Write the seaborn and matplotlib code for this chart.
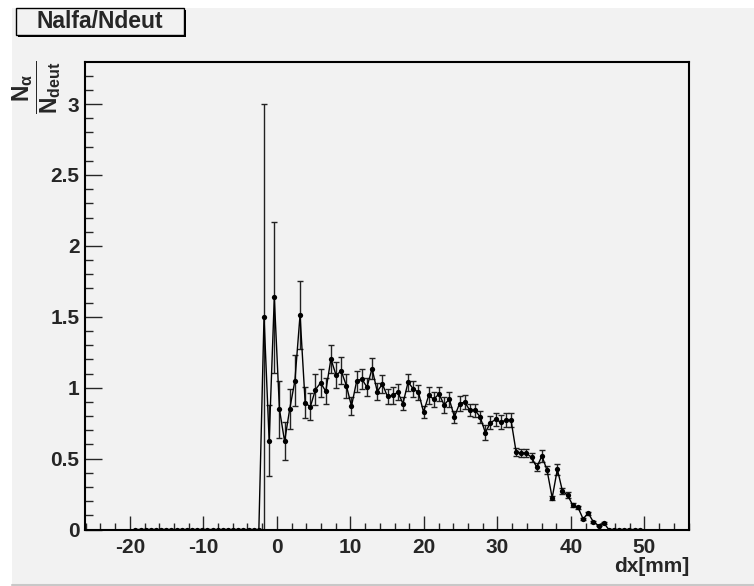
import numpy as np
import pandas as pd
import matplotlib
matplotlib.use("Agg")
import matplotlib.pyplot as plt
from matplotlib.patches import Rectangle
from matplotlib.ticker import MultipleLocator
import seaborn as sns

# ---------------- data ----------------
bin_width = 0.7
bin_index = list(range(-28, 71))          # bins with entries, centre = (k+0.5)*bin_width
zeros_left = [0.0] * 25                    # k = -28 .. -4
ratio_mid = [1.50, 0.625, 1.636, 0.848, 0.622, 0.851, 1.048, 1.511, 0.893, 0.865,
             0.987, 1.034, 0.975, 1.203, 1.088, 1.118, 1.015, 0.870, 1.046, 1.062,
             1.004, 1.135, 0.973, 1.025, 0.938, 0.945, 0.968, 0.888, 1.039, 0.992,
             0.968, 0.829, 0.945, 0.919, 0.956, 0.879, 0.919, 0.794, 0.888, 0.898,
             0.841, 0.841, 0.794, 0.684, 0.752, 0.776, 0.757, 0.771, 0.771, 0.545,
             0.540, 0.538, 0.508, 0.439, 0.519, 0.418, 0.223, 0.425, 0.270, 0.242,
             0.171, 0.157, 0.075, 0.115, 0.054, 0.028, 0.047]          # k = -3 .. 63
error_mid = [1.50, 0.25, 0.53, 0.20, 0.135, 0.14, 0.18, 0.24, 0.11, 0.095,
             0.106, 0.10, 0.09, 0.10, 0.09, 0.095, 0.085, 0.066, 0.075, 0.07,
             0.065, 0.073, 0.06, 0.065, 0.055, 0.06, 0.055, 0.047, 0.06, 0.055,
             0.052, 0.043, 0.06, 0.054, 0.05, 0.056, 0.054, 0.045, 0.05, 0.05,
             0.043, 0.047, 0.045, 0.05, 0.045, 0.047, 0.05, 0.05, 0.05, 0.03,
             0.03, 0.03, 0.03, 0.03, 0.045, 0.03, 0.015, 0.04, 0.02, 0.02,
             0.015, 0.012, 0.008, 0.01, 0.005, 0.004, 0.005]
zeros_right = [0.0] * 7                    # k = 64 .. 70

x_ticks = [-20, -10, 0, 10, 20, 30, 40, 50]
y_ticks = [0, 0.5, 1, 1.5, 2, 2.5, 3]
y_tick_labels = ["0", "0.5", "1", "1.5", "2", "2.5", "3"]
title_text = "Nalfa/Ndeut"
x_label = "dx[mm]"

dx = (np.array(bin_index) + 0.5) * bin_width
ratio = np.array(zeros_left + ratio_mid + zeros_right)
err = np.array(zeros_left + error_mid + zeros_right)
df = pd.DataFrame({"dx": dx, "ratio": ratio, "err": err})

# ---------------- style ----------------
sns.set_style("ticks")
plt.rcParams["font.family"] = ["Liberation Sans", "DejaVu Sans"]
plt.rcParams["font.weight"] = "bold"
plt.rcParams["mathtext.fontset"] = "custom"
plt.rcParams["mathtext.rm"] = "Liberation Sans:bold"
plt.rcParams["mathtext.bf"] = "Liberation Sans:bold"
plt.rcParams["mathtext.it"] = "Liberation Sans:bold"
plt.rcParams["mathtext.sf"] = "Liberation Sans:bold"

W, H = 754, 586
BG = "#f2f2f2"
fig = plt.figure(figsize=(W / 100, H / 100), dpi=100, facecolor="white")

# canvas grey area
fig.patches.append(Rectangle((12 / W, 1.5 / H), 1 - 12 / W, (584.5 - 8) / H,
                             transform=fig.transFigure, facecolor=BG,
                             edgecolor="none", zorder=-10))
fig.lines.append(plt.Line2D([12 / W, 1], [1.5 / H, 1.5 / H], transform=fig.transFigure,
                            color="#c8c8c8", linewidth=1.5))

ax = fig.add_axes([85 / W, (586 - 529.5) / H, (689.3 - 85) / W, (529.5 - 62.3) / H])
ax.set_facecolor(BG)

mask = df["err"] > 0
ax.errorbar(df.loc[mask, "dx"], df.loc[mask, "ratio"], yerr=df.loc[mask, "err"],
            fmt="none", ecolor="#222222", elinewidth=1.0, capsize=2.0, capthick=1.0,
            zorder=2)
sns.lineplot(data=df, x="dx", y="ratio", ax=ax, color="black", linewidth=1.0,
             marker="o", markersize=3.8, markeredgewidth=0, sort=False,
             estimator=None, zorder=3)

ax.set_xlim(-26.1, 56.1)
ax.set_ylim(0, 3.2945)
ax.set_xticks(x_ticks)
ax.set_xticklabels([str(t) for t in x_ticks])
ax.set_yticks(y_ticks)
ax.set_yticklabels(y_tick_labels)
ax.xaxis.set_minor_locator(MultipleLocator(2))
ax.yaxis.set_minor_locator(MultipleLocator(0.1))
ax.tick_params(axis="x", which="major", direction="in", length=10, width=1,
               labelsize=15, pad=6, top=False)
ax.tick_params(axis="x", which="minor", direction="in", length=5, width=1, top=False)
ax.tick_params(axis="y", which="major", direction="in", length=12, width=1,
               labelsize=15, pad=4, right=False)
ax.tick_params(axis="y", which="minor", direction="in", length=6, width=1, right=False)
for lab in ax.get_xticklabels() + ax.get_yticklabels():
    lab.set_fontweight("bold")
for s in ax.spines.values():
    s.set_visible(True)
    s.set_linewidth(1.5)
    s.set_color("black")
ax.set_xlabel("")
ax.set_ylabel("")

# x label at right end
fig.text(689.3 / W, 1 - 566 / H, x_label, ha="right", va="center",
         fontsize=15, fontweight="bold")

# y label: fraction N_alpha / N_deut
fig.text(37 / W, 1 - 61 / H,
         r"$\dfrac{\mathbf{N}_{\alpha}}{\mathbf{N}_{\mathbf{deut}}}$",
         rotation=90, ha="center", va="top", fontsize=16.5)

# title box with shadow
bx0, by0, bx1, by1 = 16, 7.5, 184, 35
fig.patches.append(Rectangle((bx0 / W + 2 / W, 1 - (by1 + 2) / H), (bx1 - bx0) / W,
                             (by1 - by0) / H, transform=fig.transFigure,
                             facecolor="black", edgecolor="none", zorder=5))
fig.patches.append(Rectangle((bx0 / W, 1 - by1 / H), (bx1 - bx0) / W, (by1 - by0) / H,
                             transform=fig.transFigure, facecolor=BG,
                             edgecolor="black", linewidth=1.0, zorder=6))
t = fig.text((bx0 + bx1) / 2 / W, 1 - (by0 + by1) / 2 / H, title_text,
             ha="center", va="center", fontsize=16.5, fontweight="bold", zorder=7)

fig.savefig("out.png", dpi=100, facecolor="white")
